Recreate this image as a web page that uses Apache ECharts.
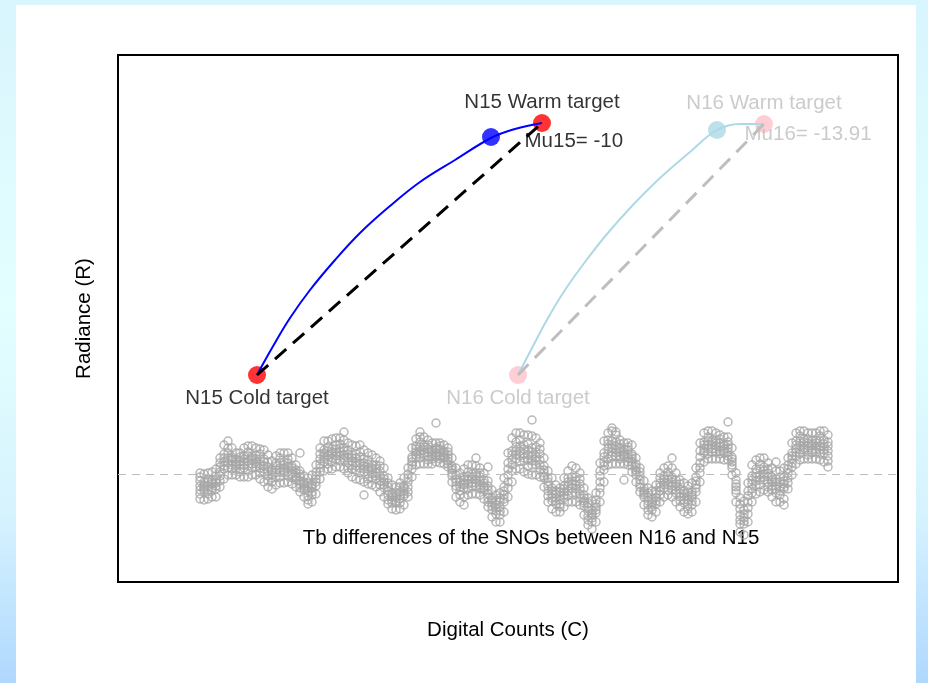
<!DOCTYPE html>
<html>
<head>
<meta charset="utf-8">
<script src="https://cdn.jsdelivr.net/npm/echarts@6/dist/echarts.min.js"></script>
<style>
  html, body { margin: 0; padding: 0; width: 928px; height: 683px; overflow: hidden; }
  body { background: linear-gradient(to bottom, #d9f5fd 0%, #e4ffff 45%, #d6f3fe 75%, #b0d8fe 100%); }
  #panel { position: absolute; left: 16px; top: 5px; width: 900px; height: 678px; background: #ffffff; }
  #chart { position: absolute; left: 0; top: 0; width: 928px; height: 683px; }
</style>
</head>
<body>
<div id="panel"></div>
<div id="chart"></div>
<script>
// Calibration targets, [digital counts, radiance]
const n15Cold = [139, 207];
const n15Warm = [424, 459];
const n15Mid = [373, 445];
const n16Cold = [400, 207];
const n16Warm = [646, 458];
const n16Mid = [599, 452];

// Non-linear calibration curves between cold and warm targets
const n15Curve = [[139, 207], [154, 234], [172, 264], [192, 292], [217, 322], [242, 349],
  [272, 376], [302, 400], [337, 422], [373, 444], [397, 453], [424, 459]];
const n16Curve = [[400, 207], [414, 234], [430, 264], [447, 292], [467, 320], [489, 348],
  [514, 376], [542, 404], [572, 430], [599, 452], [622, 458], [646, 458]];

const mu15 = -10;
const mu16 = -13.91;

// Tb differences (K) of the SNOs, N16 minus N15, by sample index; seven samples per index
const tbDiffA = [0.1,0,0.1,0.2,0.5,1.6,2.9,3.3,2.6,2.1, 2.1,2.6,2.8,2.8,2.6,2.5,2.4,1.9,1.3,1.8,
  2.1,2.1,2.1,1.6,0.9,0.3,-0.2,-0.4,-0.1,0.9, 2.6,3.3,3.3,3.5,3.6,3.6,3.4,3.1,2.9,2.8,
  2.9,2.4,2.1,1.9,1.6,1.3,0.6,-0.4,-1.1,-1.3, -0.9,-0.4,0.6,2.6,3.5,3.7,3.7,3.4,3.1,3.1,
  3.1,2.9,2.6,1.6,0.6,0.1,0.5,0.9,0.9,0.8, 0.6,0.1,-0.7,-1.6,-2.1,-1.9,-0.4,2.1,3.6,4.1,
  4.1,3.9,3.9,3.8,3.6,3.1,1.6,0.3,-0.4,-1.1, -1.4,-0.4,0.3,0.8,0.6,0.1,-1.4,-2.4,-2.7,-1.9,
  1.1,3.3,4.1,4.3,3.9,3.4,3.1,3.1,2.9,1.6, 0.6,-0.7,-1.4,-1.7,-1.1,0.1,0.6,0.8,0.6,0.1,
  -0.6,-0.9,-1.2,-0.9,0.6,3.1,4.1,4.3,4.3,4.1, 3.9,3.7,3.7,2.6,0.1,-2.4,-2.7,-0.9,0.9,1.4,
  1.6,1.6,1.1,0.6,0.3,0.3,0.6,1.6,3.1,4.1, 4.3,4.3,4.1,4.1,4.1,4.3,4.3,3.9];
const tbDiffB = [-0.3,-0.8,-0.5,-0.6,-0.2,1.1,2.0,2.6,1.7,1.5, 1.7,1.8,2.2,1.8,1.9,2.0,1.5,1.2,0.4,1.1,
  1.6,1.2,1.5,0.8,0.4,0,-0.8,-0.9,-1.0,0.2, 2.0,2.4,2.7,2.5,2.9,3.0,2.6,2.4,1.9,2.0,
  2.2,1.5,1.4,0.9,0.9,0.8,-0.2,-0.9,-1.9,-1.9, -1.3,-1.2,0,1.7,2.8,3.2,2.9,2.9,2.4,2.6,
  2.8,2.3,2.2,0.8,-0.1,-0.4,-0.3,0.2,0,0.1, 0.1,-0.6,-1.2,-2.4,-2.7,-2.4,-1.3,1.1,2.3,3.2,
  3.4,2.9,3.0,2.6,2.7,2.5,0.8,-0.4,-1.4,-1.7, -1.8,-1.2,-0.4,-0.3,-0.3,-0.5,-2.1,-2.9,-3.6,-2.6,
  0.3,2.1,3.4,3.3,3.2,3.0,2.5,2.7,2.0,1.0, 0.2,-1.4,-1.9,-2.5,-1.7,-0.4,-0.2,0.2,-0.3,-0.6,
  -1.0,-1.7,-1.8,-1.8,-0.3,2.3,3.2,3.7,3.4,3.4, 3.5,3.0,3.2,1.7,-0.6,-3.0,-3.6,-1.7,-0.2,0.5,
  1.0,0.7,0.5,-0.3,-0.5,-0.3,-0.3,0.9,2.1,3.3, 3.8,3.5,3.5,3.3,3.4,3.8,3.4,3.2];
const tbDiffBC = [-0.7,-1.1,-0.8,-0.8,-0.6,0.7,1.6,2.1,1.5,1.2, 1.3,1.5,1.8,1.6,1.5,1.5,1.2,0.7,0.2,0.8,
  1.1,0.9,1.1,0.6,0.1,-0.3,-1.0,-1.3,-1.2,-0.2, 1.5,2.1,2.3,2.2,2.5,2.6,2.3,2.0,1.6,1.6,
  1.7,1.1,1.0,0.6,0.5,0.3,-0.5,-1.3,-2.1,-2.2, -1.8,-1.4,-0.4,1.5,2.5,2.7,2.7,2.5,2.2,2.4,
  2.5,2.1,1.9,0.6,-0.5,-0.8,-0.6,-0.2,-0.3,-0.2, -0.3,-0.9,-1.6,-2.6,-3.1,-2.8,-1.7,0.5,1.9,2.7,
  2.8,2.5,2.4,2.2,2.2,2.0,0.4,-0.8,-1.7,-2.0, -2.2,-1.5,-0.8,-0.7,-0.7,-1.0,-2.4,-3.3,-3.9,-3.0,
  -0.2,1.7,3.0,2.9,2.8,2.6,2.2,2.4,1.8,0.7, -0.2,-1.7,-2.3,-2.8,-2.0,-0.9,-0.5,-0.2,-0.5,-1.0,
  -1.5,-2.0,-2.2,-2.1,-0.7,1.7,2.9,3.3,3.2,3.1, 3.1,2.8,2.9,1.5,-1.0,-3.5,-4.0,-2.2,-0.6,0.1,
  0.5,0.3,0.1,-0.6,-0.8,-0.8,-0.7,0.5,1.8,2.9, 3.3,3.2,3.1,3.0,3.1,3.3,3.0,2.8];
const tbDiffC = [-1.2,-1.3,-1.2,-1.0,-0.9,0.2,1.2,1.6,1.3,1.0, 0.9,1.2,1.3,1.4,1.2,1.0,0.8,0.3,-0.1,0.4,
  0.6,0.6,0.7,0.3,-0.2,-0.7,-1.2,-1.7,-1.4,-0.5, 1.0,1.8,1.9,2.0,2.1,2.2,1.9,1.6,1.3,1.1,
  1.1,0.8,0.5,0.4,0.1,-0.2,-0.8,-1.7,-2.3,-2.4, -2.2,-1.7,-0.8,1.2,2.2,2.3,2.4,2.2,2.0,2.1,
  2.1,1.9,1.6,0.4,-0.8,-1.3,-0.9,-0.6,-0.5,-0.6, -0.7,-1.2,-2.0,-2.9,-3.4,-3.3,-2.1,-0.1,1.4,2.3,
  2.3,2.0,1.9,1.8,1.7,1.4,0.1,-1.2,-2.0,-2.4, -2.6,-1.8,-1.2,-1.0,-1.1,-1.5,-2.7,-3.7,-4.1,-3.3,
  -0.8,1.2,2.5,2.6,2.4,2.2,2.0,2.0,1.5,0.4, -0.6,-1.9,-2.7,-3.0,-2.4,-1.3,-0.8,-0.6,-0.8,-1.3,
  -1.9,-2.3,-2.6,-2.3,-1.1,1.1,2.6,2.9,2.9,2.8, 2.7,2.5,2.6,1.2,-1.3,-4.1,-4.4,-2.8,-1.0,-0.3,
  -0.1,0.0,-0.3,-0.8,-1.2,-1.3,-1.0,0.1,1.5,2.5, 2.8,2.9,2.8,2.8,2.8,2.8,2.7,2.3];
const tbDiffCD = [-1.6,-1.5,-1.6,-1.4,-1.2,-0.2,0.8,1.1,0.9,0.8, 0.5,0.9,0.8,1.0,1.0,0.6,0.5,-0.2,-0.4,0.1,
  0.2,0.3,0.2,0,-0.4,-1.0,-1.4,-2.2,-1.8,-0.8, 0.6,1.5,1.4,1.6,1.8,1.8,1.6,1.1,0.9,0.8,
  0.6,0.5,0,0,-0.2,-0.7,-1.1,-2.1,-2.6,-2.7, -2.5,-2.0,-1.3,0.9,1.9,2.0,2.1,1.8,1.8,1.9,
  1.8,1.7,1.3,0.1,-1.2,-1.7,-1.1,-1.0,-0.9,-0.9, -1.1,-1.4,-2.4,-3.2,-3.7,-3.7,-2.5,-0.8,0.9,1.9,
  1.8,1.6,1.4,1.3,1.3,0.9,-0.2,-1.7,-2.4,-2.7, -3.0,-2.1,-1.7,-1.4,-1.5,-2.0,-2.9,-4.2,-4.4,-3.6,
  -1.4,0.8,2.0,2.2,2.1,1.8,1.9,1.6,1.2,0.2, -1.0,-2.1,-3.1,-3.3,-2.7,-1.7,-1.1,-1.1,-1.2,-1.6,
  -2.3,-2.6,-3.0,-2.7,-1.4,0.6,2.3,2.5,2.5,2.5, 2.3,2.3,2.2,0.9,-1.6,-4.6,-4.7,-3.4,-1.5,-0.7,
  -0.6,-0.3,-0.8,-1.2,-1.5,-1.7,-1.3,-0.4,1.1,2.2, 2.4,2.6,2.4,2.4,2.5,2.4,2.4,1.8];
const tbDiffD = [-2.0,-1.7,-2.0,-1.7,-1.5,-0.7,0.5,0.6,0.5,0.5, 0.2,0.6,0.3,0.6,0.7,0.1,0.2,-0.7,-0.8,-0.3,
  -0.3,0.1,-0.2,-0.4,-0.6,-1.4,-1.6,-2.6,-2.1,-1.2, 0.2,1.2,1.0,1.2,1.5,1.3,1.4,0.6,0.5,0.4,
  0.1,0.2,-0.5,-0.4,-0.5,-1.1,-1.4,-2.6,-2.9,-2.9, -2.9,-2.2,-1.8,0.5,1.6,1.6,1.9,1.4,1.5,1.7,
  1.5,1.6,1.0,-0.2,-1.5,-2.1,-1.4,-1.5,-1.2,-1.2, -1.5,-1.6,-2.8,-3.6,-4.0,-4.1,-2.8,-1.4,0.3,1.5,
  1.3,1.3,0.8,0.9,0.9,0.4,-0.4,-2.2,-2.7,-3.0, -3.3,-2.4,-2.2,-1.9,-1.9,-2.4,-3.2,-4.6,-4.8,-3.9,
  -1.9,0.4,1.5,1.8,1.8,1.5,1.7,1.2,0.8,-0.1, -1.3,-2.3,-3.6,-3.6,-3.0,-2.1,-1.4,-1.6,-1.6,-1.9,
  -2.7,-2.9,-3.5,-3.1,-1.8,0.1,2.1,2.0,2.2,2.2, 2.0,2.1,1.8,0.6,-1.9,-5.0,-5.0,-4.0,-1.9,-1.1,
  -1.1,-0.6,-1.3,-1.6,-1.9,-2.1,-1.5,-0.9,0.7,1.8, 2.0,2.4,1.9,2.1,2.2,2.0,2.1,1.3];
const tbDiffE = [-2.5,-2.6,-2.5,-2.3,-2.3,-1.3,-0.5,-0.1,-0.1,-0.1, -0.3,-0.3,-0.3,-0.1,-0.1,-0.5,-0.8,-1.3,-1.5,-1.1,
  -0.9,-0.9,-0.8,-1.0,-1.3,-1.8,-2.3,-3.0,-2.8,-2.0, -0.5,0.3,0.5,0.5,0.7,0.7,0.5,0.1,-0.3,-0.5,
  -0.6,-0.8,-1.0,-1.1,-1.3,-1.8,-2.3,-3.0,-3.5,-3.6, -3.5,-3.1,-2.3,-0.3,0.9,1.0,1.0,1.0,1.0,1.2,
  1.1,1.0,0.7,-0.8,-2.3,-2.8,-2.3,-2.1,-2.0,-2.0, -2.1,-2.5,-3.3,-4.3,-4.8,-4.8,-3.8,-2.3,-0.8,0.5,
  0.5,0.2,0.0,-0.1,-0.1,-0.3,-1.3,-2.8,-3.5,-3.8, -3.8,-3.3,-2.8,-2.8,-2.8,-3.1,-4.1,-5.1,-5.5,-4.8,
  -2.8,-0.8,0.9,1.0,1.0,1.0,1.0,0.9,0.2,-0.8, -1.8,-3.1,-4.1,-4.3,-3.8,-2.8,-2.3,-2.1,-2.3,-2.8,
  -3.3,-3.8,-4.0,-3.8,-2.8,-0.8,1.2,1.5,1.5,1.5, 1.5,1.4,1.4,-0.1,-2.8,-5.8,-6.1,-4.8,-2.8,-2.0,
  -1.8,-1.6,-1.8,-2.3,-2.8,-2.8,-2.5,-1.5,-0.1,1.0, 1.4,1.5,1.5,1.5,1.5,1.4,1.2,0.7];
// Isolated samples away from the main band, [sample index, Tb difference]
const tbDiffStray = [[25, 2.1], [36, 4.2], [41, -2.1], [55, 4.2], [59, 5.1], [66, -3.1], [69, 1.6],
  [72, 0.7], [83, 5.4], [103, 4.6], [104, 4.2], [106, -0.6], [118, 1.6], [132, 5.2], [144, 1.2], [146, -3.1]];

const FONT = 'Liberation Sans';
const FONT_SIZE = 20.5;
const N16_GREY = '#bebebe';

const tbPoints = [];
[tbDiffA, tbDiffB, tbDiffBC, tbDiffC, tbDiffCD, tbDiffD, tbDiffE].forEach(function (row) {
  row.forEach(function (v, i) { tbPoints.push([i, v]); });
});
tbDiffStray.forEach(function (p) { tbPoints.push(p); });

function targetLabel(text, color, pos) {
  return { show: true, formatter: text, color: color, fontFamily: FONT, fontSize: FONT_SIZE,
    position: pos, distance: pos === 'top' ? 1 : 4 };
}
function noteLabel(text, color, offset) {
  return { show: true, formatter: text, color: color, fontFamily: FONT, fontSize: FONT_SIZE,
    position: offset, align: 'left', verticalAlign: 'middle' };
}

const chart = echarts.init(document.getElementById('chart'), null, { renderer: 'canvas' });
chart.setOption({
  animation: false,
  textStyle: { fontFamily: FONT },
  grid: { left: 118, top: 55, width: 780, height: 527, show: true,
    borderColor: '#000', borderWidth: 2, backgroundColor: 'rgba(0,0,0,0)' },
  xAxis: [
    { type: 'value', min: 0, max: 780, name: 'Digital Counts (C)', nameLocation: 'middle', nameGap: 38,
      nameTextStyle: { color: '#000', fontSize: FONT_SIZE, fontFamily: FONT },
      axisLine: { show: false }, axisTick: { show: false }, axisLabel: { show: false }, splitLine: { show: false } },
    { type: 'value', min: -20.5, max: 174.5, show: false }
  ],
  yAxis: [
    { type: 'value', min: 0, max: 527, name: 'Radiance (R)', nameLocation: 'middle', nameGap: 23,
      nameTextStyle: { color: '#000', fontSize: FONT_SIZE, fontFamily: FONT },
      axisLine: { show: false }, axisTick: { show: false }, axisLabel: { show: false }, splitLine: { show: false } },
    { type: 'value', min: -10.8, max: 41.9, show: false }
  ],
  graphic: [
    { type: 'text', style: { text: 'Tb differences of the SNOs between N16 and N15',
      fill: '#000', font: FONT_SIZE + 'px "' + FONT + '"', textAlign: 'center', textVerticalAlign: 'middle',
      x: 531, y: 538 } }
  ],
  series: [
    { type: 'scatter', name: 'Tb difference', xAxisIndex: 1, yAxisIndex: 1, z: 1, silent: true,
      symbol: 'circle', symbolSize: 8, data: tbPoints,
      itemStyle: { color: 'rgba(0,0,0,0)', borderColor: '#a6a6a6', borderWidth: 1.5 },
      markLine: { silent: true, symbol: 'none', label: { show: false },
        lineStyle: { color: N16_GREY, width: 1, type: [8, 6] }, data: [{ yAxis: 0 }] } },
    { type: 'scatter', name: 'N15 targets', z: 2, silent: true, symbolSize: 18,
      itemStyle: { color: '#ff0000' },
      data: [
        { value: n15Warm, label: targetLabel('N15 Warm target', '#000', 'top') },
        { value: n15Cold, label: targetLabel('N15 Cold target', '#000', 'bottom') }
      ] },
    { type: 'scatter', name: 'N15 mid', z: 2, silent: true, symbolSize: 18,
      itemStyle: { color: '#0000ff' }, data: [n15Mid] },
    { type: 'scatter', name: 'N16 targets', z: 2, silent: true, symbolSize: 18,
      itemStyle: { color: '#ffc0cb' },
      data: [
        { value: n16Warm, label: targetLabel('N16 Warm target', N16_GREY, 'top') },
        { value: n16Cold, label: targetLabel('N16 Cold target', N16_GREY, 'bottom') }
      ] },
    { type: 'scatter', name: 'N16 mid', z: 2, silent: true, symbolSize: 18,
      itemStyle: { color: '#add8e6' }, data: [n16Mid] },
    { type: 'line', name: 'N15 curve', z: 3, silent: true, smooth: 0.4, showSymbol: false,
      lineStyle: { color: '#0000ff', width: 2 }, data: n15Curve },
    { type: 'line', name: 'N16 curve', z: 3, silent: true, smooth: 0.4, showSymbol: false,
      lineStyle: { color: '#add8e6', width: 2 }, data: n16Curve },
    { type: 'line', name: 'N15 linear', z: 4, silent: true, showSymbol: false,
      lineStyle: { color: '#000', width: 3, type: [15, 9] }, data: [n15Cold, n15Warm] },
    { type: 'line', name: 'N16 linear', z: 4, silent: true, showSymbol: false,
      lineStyle: { color: N16_GREY, width: 3, type: [15, 9] }, data: [n16Cold, n16Warm] },
    { type: 'scatter', name: 'Mu notes', z: 5, silent: true, symbolSize: 1,
      itemStyle: { color: 'rgba(0,0,0,0)' },
      data: [
        { value: n15Warm, label: noteLabel('Mu15= ' + mu15, '#000', [-17, 19]) },
        { value: n16Warm, label: noteLabel('Mu16= ' + mu16, N16_GREY, [-19, 11]) }
      ] }
  ]
});
</script>
</body>
</html>
